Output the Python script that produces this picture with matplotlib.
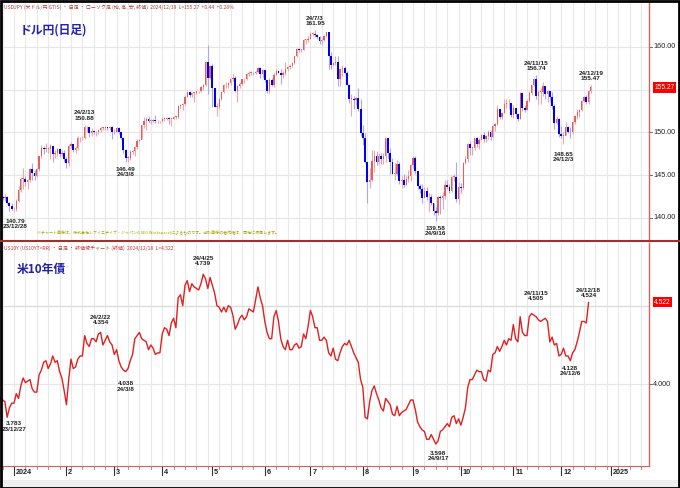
import numpy as np
import pandas as pd
import matplotlib
matplotlib.use("Agg")
import matplotlib.pyplot as plt
import matplotlib.transforms as mtrans
from matplotlib.patches import Rectangle
from matplotlib.lines import Line2D

plt.rcParams['font.family'] = ['Noto Sans CJK JP', 'DejaVu Sans']
NUM = ['Liberation Sans Narrow', 'Liberation Sans', 'DejaVu Sans']

# ---- USD/JPY daily candles, 2023-12-22 .. 2024-12-19 (open = previous close)
usd_first_open = 142.2
usd_close = [
    142.4, 142.3, 142.4, 141.8, 141.4, 141.0,
    141.0, 142.0, 143.3, 144.6, 144.6, 144.2, 144.4, 145.7, 145.3, 144.9, 145.7, 147.2, 148.2, 148.1, 148.1, 148.1, 148.4, 147.5, 147.6, 148.1, 147.5, 147.6, 146.9,
    146.4, 148.4, 148.7, 147.9, 148.2, 149.3, 149.3, 149.3, 150.6, 150.6, 149.9, 150.2, 150.0, 150.0, 150.3, 150.5, 150.5, 150.7, 150.5, 150.7, 150.0,
    150.1, 150.5, 150.0, 149.4, 148.0, 147.0, 147.0, 147.7, 147.8, 148.3, 149.0, 149.1, 150.9, 151.3, 151.6, 151.4, 151.4, 151.5, 151.3, 151.3, 151.3,
    151.6, 151.6, 151.7, 151.6, 151.6, 151.8, 151.8, 153.1, 153.2, 153.3, 154.2, 154.7, 154.4, 154.6, 154.6, 154.8, 154.8, 155.3, 155.6, 158.3, 156.4, 157.8,
    155.2, 153.0, 153.0, 153.9, 154.7, 155.5, 155.5, 155.8, 156.2, 156.4, 154.9, 155.4, 155.7, 156.2, 156.2, 156.8, 157.0, 157.0, 156.9, 157.1, 157.6, 156.8, 157.3,
    156.1, 154.9, 156.1, 155.6, 156.7, 157.2, 157.0, 156.7, 157.0, 157.4, 157.7, 157.8, 158.1, 158.9, 159.8, 159.7, 159.7, 160.8, 160.8, 160.9,
    161.5, 161.5, 161.4, 161.2, 160.7, 160.8, 161.3, 161.7, 158.9, 157.9, 158.1, 158.3, 156.2, 157.4, 157.5, 157.0, 155.6, 153.9, 153.9, 153.8, 154.0, 152.7, 149.9,
    149.3, 146.6, 144.2, 144.4, 146.7, 147.2, 146.6, 147.2, 146.9, 147.3, 149.3, 147.6, 146.5, 145.2, 145.2, 146.3, 144.3, 144.5, 143.9, 144.6, 144.9, 146.2,
    147.0, 145.5, 143.7, 143.4, 142.3, 143.1, 142.4, 142.4, 141.8, 140.8, 140.6, 142.4, 142.3, 142.6, 143.9, 143.6, 143.2, 144.8, 144.8, 142.2, 143.6,
    143.5, 146.4, 146.9, 148.7, 148.2, 148.2, 149.3, 148.6, 149.1, 149.7, 149.2, 149.6, 150.1, 149.5, 150.8, 151.0, 152.7, 151.8, 152.3, 153.3, 153.4, 153.4, 152.0,
    152.9, 152.2, 151.6, 154.6, 152.9, 152.6, 153.7, 154.6, 155.5, 156.3, 154.3, 154.7, 154.7, 155.4, 154.5, 154.8, 154.2, 153.1, 151.1, 151.6, 149.8,
    149.6, 149.6, 150.6, 150.1, 150.0, 151.2, 151.9, 152.4, 152.6, 153.7, 154.1, 153.6, 154.8, 155.3,
]
usd_high = [
    142.9, 142.6, 142.8, 142.6, 141.9, 141.8,
    141.3, 142.2, 143.7, 144.8, 145.9, 144.9, 144.6, 145.9, 146.4, 145.6, 145.9, 147.3, 148.5, 148.4, 148.8, 148.3, 148.7, 148.1, 147.9, 148.2, 148.2, 147.9, 147.9,
    147.1, 148.6, 148.9, 148.7, 148.4, 149.6, 149.5, 149.6, 150.9, 150.8, 150.5, 150.5, 150.2, 150.2, 150.4, 150.6, 150.6, 150.8, 150.7, 150.8, 150.8,
    150.4, 150.7, 150.6, 150.0, 149.5, 148.1, 147.2, 147.9, 148.0, 148.4, 149.2, 149.2, 150.9, 151.8, 151.8, 151.9, 151.6, 151.6, 152.0, 151.5, 151.4,
    151.8, 151.8, 151.8, 151.8, 151.8, 151.9, 151.9, 153.2, 153.3, 153.4, 154.4, 154.8, 154.8, 154.7, 154.7, 154.9, 154.9, 155.4, 155.7, 158.4, 160.2, 157.9,
    158.0, 155.2, 153.5, 154.0, 154.8, 155.7, 155.9, 155.9, 156.3, 156.8, 156.6, 155.6, 155.9, 156.3, 156.4, 156.9, 157.2, 157.2, 157.1, 157.3, 157.7, 157.7, 157.4,
    157.3, 156.1, 156.4, 156.4, 157.0, 157.4, 157.3, 157.4, 157.2, 158.2, 157.8, 158.0, 158.2, 159.0, 159.9, 159.9, 159.8, 160.9, 160.9, 161.3,
    161.7, 161.7, 162.0, 161.5, 161.3, 161.0, 161.4, 161.8, 161.8, 159.4, 158.3, 158.9, 158.9, 157.6, 157.9, 157.8, 157.2, 155.7, 154.5, 154.3, 154.2, 155.2, 153.9,
    150.9, 149.9, 146.6, 145.9, 147.9, 147.9, 147.8, 147.6, 147.6, 147.6, 149.4, 149.3, 148.2, 147.0, 146.4, 146.8, 146.6, 144.9, 145.2, 144.9, 145.6, 146.3,
    147.2, 147.2, 145.5, 144.0, 144.0, 143.6, 143.6, 142.9, 142.8, 141.8, 141.3, 142.6, 142.7, 143.0, 144.5, 144.4, 144.0, 144.9, 145.2, 146.5, 144.2,
    144.1, 146.5, 147.2, 148.8, 149.0, 148.3, 149.4, 149.5, 149.3, 149.8, 150.0, 149.7, 150.3, 150.3, 150.9, 151.1, 153.2, 152.8, 152.4, 153.9, 153.9, 153.9, 153.4,
    153.2, 152.7, 152.3, 154.7, 154.7, 153.2, 153.9, 154.8, 155.6, 156.4, 156.7, 155.0, 155.2, 155.9, 155.3, 155.0, 154.9, 154.7, 153.3, 151.9, 151.7,
    150.8, 150.1, 151.2, 150.8, 150.7, 151.4, 152.0, 152.8, 152.8, 153.8, 154.3, 154.4, 155.0, 155.5,
]
usd_low = [
    141.9, 142.1, 142.0, 141.6, 140.8, 140.9,
    140.8, 140.8, 141.9, 143.0, 143.4, 143.8, 143.4, 144.2, 144.4, 144.4, 144.8, 145.5, 147.0, 147.5, 147.7, 147.6, 146.9, 146.6, 147.0, 147.2, 147.1, 147.2, 146.5,
    145.9, 146.1, 148.2, 147.7, 147.6, 147.9, 148.9, 149.1, 149.2, 150.0, 149.5, 149.6, 149.8, 149.6, 149.8, 150.0, 150.3, 150.3, 150.3, 150.3, 149.2,
    149.8, 150.0, 149.8, 149.2, 147.6, 146.5, 146.6, 146.8, 147.5, 147.3, 148.1, 148.9, 149.2, 150.5, 150.3, 151.1, 151.0, 151.2, 151.1, 151.1, 151.1,
    151.2, 151.4, 151.5, 151.0, 150.8, 151.6, 151.6, 151.7, 152.7, 152.6, 153.2, 154.1, 154.1, 154.2, 153.6, 154.5, 154.6, 154.7, 155.0, 155.4, 154.5, 156.3,
    153.0, 153.0, 151.9, 152.8, 153.8, 154.6, 155.2, 155.2, 155.6, 156.0, 154.7, 153.6, 155.2, 155.6, 155.8, 156.1, 156.6, 156.7, 156.7, 156.8, 157.0, 156.4, 156.4,
    155.9, 154.6, 154.6, 155.4, 155.3, 156.7, 156.9, 155.7, 156.4, 156.7, 157.2, 157.4, 157.7, 158.0, 158.8, 159.4, 159.4, 159.6, 160.3, 160.6,
    160.9, 161.3, 161.2, 160.9, 160.3, 160.2, 160.7, 161.2, 157.4, 157.4, 157.8, 157.9, 155.4, 155.4, 156.6, 156.8, 155.5, 153.4, 151.9, 152.8, 153.2, 152.5, 149.6,
    148.5, 146.4, 141.7, 143.5, 144.3, 145.4, 146.2, 146.3, 146.3, 146.3, 146.5, 147.0, 145.2, 145.2, 144.5, 144.9, 144.0, 143.5, 143.6, 143.9, 144.2, 144.3,
    145.9, 145.2, 143.4, 142.9, 141.8, 142.4, 142.1, 140.7, 141.5, 140.3, 139.6, 140.4, 140.5, 141.1, 142.2, 143.4, 142.9, 143.0, 144.3, 141.9, 141.6,
    142.9, 143.4, 146.3, 146.5, 147.4, 147.4, 148.0, 148.3, 148.1, 149.1, 148.9, 148.9, 149.2, 149.1, 149.3, 150.2, 150.9, 151.6, 151.6, 152.3, 152.9, 152.7, 151.8,
    151.7, 151.8, 151.3, 151.6, 152.5, 152.4, 152.6, 153.6, 154.4, 155.4, 153.9, 153.3, 153.3, 154.3, 153.9, 153.6, 153.6, 152.8, 150.4, 151.0, 149.5,
    149.4, 148.7, 149.7, 149.9, 149.4, 149.8, 151.0, 151.6, 151.8, 152.5, 153.6, 153.3, 153.3, 154.6,
]

# ---- US 10-year yield, daily close, 2023-12-22 .. 2024-12-18
us10y = [
    3.91, 3.90, 3.89, 3.79, 3.85, 3.88,
    3.88, 3.94, 3.91, 3.99, 4.04, 4.01, 4.02, 4.03, 3.97, 3.95, 3.95, 4.06, 4.09, 4.14, 4.15, 4.10, 4.13, 4.18, 4.14, 4.15, 4.08, 4.04, 3.96,
    3.87, 4.03, 4.16, 4.10, 4.11, 4.16, 4.18, 4.18, 4.31, 4.26, 4.24, 4.29, 4.29, 4.27, 4.32, 4.33, 4.25, 4.28, 4.31, 4.27, 4.25,
    4.19, 4.22, 4.15, 4.11, 4.09, 4.08, 4.10, 4.15, 4.19, 4.29, 4.31, 4.33, 4.29, 4.28, 4.27, 4.22, 4.25, 4.23, 4.19, 4.20, 4.20,
    4.32, 4.36, 4.35, 4.31, 4.39, 4.42, 4.36, 4.55, 4.57, 4.50, 4.63, 4.66, 4.59, 4.64, 4.62, 4.61, 4.60, 4.64, 4.70, 4.67, 4.61, 4.68,
    4.63, 4.58, 4.50, 4.49, 4.46, 4.49, 4.46, 4.50, 4.49, 4.44, 4.35, 4.38, 4.42, 4.44, 4.41, 4.43, 4.48, 4.47, 4.46, 4.54, 4.62, 4.55, 4.50,
    4.40, 4.33, 4.29, 4.29, 4.43, 4.47, 4.40, 4.29, 4.24, 4.22, 4.28, 4.22, 4.22, 4.25, 4.26, 4.23, 4.24, 4.32, 4.29, 4.37,
    4.47, 4.43, 4.36, 4.36, 4.28, 4.28, 4.30, 4.28, 4.20, 4.18, 4.23, 4.16, 4.15, 4.20, 4.24, 4.26, 4.25, 4.28, 4.24, 4.20, 4.17, 4.14, 4.03,
    3.98, 3.79, 3.78, 3.89, 3.96, 3.99, 3.94, 3.90, 3.85, 3.83, 3.91, 3.89, 3.87, 3.81, 3.80, 3.86, 3.80, 3.82, 3.83, 3.84, 3.87, 3.90,
    3.90, 3.84, 3.76, 3.73, 3.71, 3.70, 3.65, 3.65, 3.68, 3.65, 3.62, 3.64, 3.70, 3.71, 3.73, 3.75, 3.73, 3.79, 3.80, 3.75, 3.78,
    3.74, 3.79, 3.85, 3.98, 4.03, 4.03, 4.06, 4.09, 4.08, 4.08, 4.03, 4.02, 4.09, 4.08, 4.19, 4.20, 4.24, 4.21, 4.24, 4.28, 4.25, 4.29, 4.28,
    4.38, 4.29, 4.27, 4.43, 4.33, 4.31, 4.31, 4.43, 4.45, 4.44, 4.43, 4.41, 4.40, 4.41, 4.42, 4.40, 4.27, 4.30, 4.25, 4.26, 4.18,
    4.19, 4.23, 4.18, 4.18, 4.15, 4.20, 4.22, 4.27, 4.33, 4.40, 4.40, 4.39, 4.52,
]

# (date, anchor, text, x offset pt, y offset pt)
usd_labels = [("2023-12-28", "low", "140.79\n23/12/28", 4, -5.5),
              ("2024-02-13", "high", "24/2/13\n150.88", 0, 3),
              ("2024-03-08", "low", "146.49\n24/3/8", 0, -3),
              ("2024-07-03", "high", "24/7/3\n161.95", 0, 3),
              ("2024-09-16", "low", "139.58\n24/9/16", 0, -3),
              ("2024-11-15", "high", "24/11/15\n156.74", 0, 3),
              ("2024-12-03", "low", "148.65\n24/12/3", 0, -6),
              ("2024-12-19", "high", "24/12/19\n155.47", 0, 3)]
bond_labels = [("2023-12-27", "3.783\n23/12/27", 5, -3),
               ("2024-02-22", "24/2/22\n4.354", 0, 5),
               ("2024-03-08", "4.038\n24/3/8", 0, -7),
               ("2024-04-25", "24/4/25\n4.739", 0, 6),
               ("2024-09-17", "3.598\n24/9/17", 0, -7),
               ("2024-11-15", "24/11/15\n4.505", 0, 11),
               ("2024-12-06", "4.128\n24/12/6", 0, -4),
               ("2024-12-18", "24/12/18\n4.524", 0, 3)]
month_names = ['2024', '2', '3', '4', '5', '6', '7', '8', '9', '10', '11', '12', '2025']

# trading-day positions, 0 = 2024-01-01
days = pd.bdate_range("2023-12-22", "2025-02-28")
pos = pd.Series(np.arange(len(days)) - 6, index=days)
c = np.array(usd_close)
o = np.array([usd_first_open] + usd_close[:-1])
h = np.array(usd_high)
l = np.array(usd_low)
x1 = pos.values[:len(c)]
x2 = pos.values[:len(us10y)]
y2 = np.array(us10y)

fig = plt.figure(figsize=(6.8, 4.88), dpi=100)
H = 488.0
ax1 = fig.add_axes([0, 1 - 241 / H, 649 / 680, 239 / H])
ax2 = fig.add_axes([0, 1 - 466 / H, 649 / 680, 223 / H])
xl = (-14 / 2.28, (649 - 14) / 2.28)

for ax in (ax1, ax2):
    ax.set_xlim(*xl)
    for k in range(-5, 285, 5):
        ax.axvline(k, color='#e9e9e9', lw=0.8, zorder=0)
    for s in ('left', 'top', 'bottom'):
        ax.spines[s].set_visible(False)
    ax.spines['right'].set_color('#d86060')
    ax.spines['right'].set_linewidth(1.0)
    ax.set_yticks([])
    ax.set_xticks([])

# ---- top panel: candles
ax1.set_ylim(137.31, 165.26)
for v in (140, 145, 150, 155, 160):
    ax1.axhline(v, color='#e6e6e6', lw=0.8, zorder=0)
up = c >= o
ax1.vlines(x1[up], l[up], h[up], color='#f2a6a6', lw=0.8, zorder=2)
ax1.vlines(x1[~up], l[~up], h[~up], color='#a8a8f0', lw=0.8, zorder=2)
blo = np.minimum(o, c)
bh = np.maximum(np.abs(c - o), 0.1)
ax1.bar(x1[up], bh[up], bottom=blo[up], width=0.55, color='#e06060', lw=0, zorder=3)
ax1.bar(x1[~up], bh[~up], bottom=blo[~up], width=0.85, color='#0000f0', lw=0, zorder=3)

for d, kind, txt, dx, dy in usd_labels:
    k = int(pos[d]) + 6
    yv = h[k] if kind == 'high' else l[k]
    ax1.annotate(txt, (x1[k], yv), xytext=(dx, dy), textcoords='offset points',
                 ha='center', va='bottom' if dy > 0 else 'top', fontsize=4.6,
                 family=NUM, fontweight='bold', color='#222222', linespacing=1.05,
                 annotation_clip=False)

# ---- bottom panel: 10Y yield
ax2.set_ylim(3.480, 4.899)
ax2.axhline(4.5, color='#dcdcdc', lw=1.0, zorder=0)
ax2.axhline(4.0, color='#e6e6e6', lw=0.8, zorder=0)
ax2.plot(x2, y2, color='#e02020', lw=1.0, zorder=3)
for d, txt, dx, dy in bond_labels:
    k = int(pos[d]) + 6
    ax2.annotate(txt, (x2[k], y2[k]), xytext=(dx, dy), textcoords='offset points',
                 ha='center', va='bottom' if dy > 0 else 'top', fontsize=4.6,
                 family=NUM, fontweight='bold', color='#222222', linespacing=1.05,
                 annotation_clip=False)
ax2.spines['bottom'].set_visible(True)
ax2.spines['bottom'].set_color('#d86060')

# right-hand price scale
for ax, vals, fmt, box in ((ax1, [140, 145, 150, 160], '{:.2f}', (155.27, '155.27')),
                           (ax2, [4.0], '{:.3f}', (4.522, '4.522'))):
    tr = mtrans.blended_transform_factory(ax.transAxes, ax.transData)
    for v in vals:
        ax.plot([1.0, 1.005], [v, v], transform=tr, color='#555555', lw=0.6, clip_on=False)
        ax.text(1.006, v, fmt.format(v), transform=tr, fontsize=5.2, family=NUM,
                va='center', ha='left', color='#222222', clip_on=False)
    ax.text(1.008, box[0], box[1], transform=tr, fontsize=4.8, family=NUM, va='center',
            ha='left', color='white', clip_on=False,
            bbox=dict(boxstyle='square,pad=0.25', fc='#ff0000', ec='none'))

# month ticks under the bottom panel
month_pos = [int(pos[pos.index[(pos.index.year == yy) & (pos.index.month == mm)][0]])
             for yy, mm in [(2024, m) for m in range(1, 13)] + [(2025, 1)]]
trx = mtrans.blended_transform_factory(ax2.transData, ax2.transAxes)
for k in range(-5, 280, 5):
    ax2.plot([k, k], [0, -0.012], transform=trx, color='#d86060', lw=0.6, clip_on=False)
for p, name in zip(month_pos, month_names):
    ax2.plot([p, p], [0, -0.04], transform=trx, color='#333333', lw=0.8, clip_on=False)
    ax2.text(p + 0.8, -0.012, name, transform=trx, fontsize=5.2, family=NUM,
             fontweight='bold', va='top', ha='left', color='#222222', clip_on=False)

# headers and titles
fig.text(4 / 680, 1 - 7 / H, 'USDJPY (米ドル/円 GTIS) ・ 日足 ・ ローソク足 (始, 高, 安, 終値)  2024/12/19  L=155.27  +0.44  +0.28%',
         fontsize=3.6, color='#b04040', va='center', ha='left')
fig.text(20 / 680, 1 - 30 / H, 'ドル円(日足)', fontsize=8.5, fontweight='bold',
         color='#2222aa', va='center', ha='left')
fig.text(37 / 680, 1 - 233 / H,
         '※チャート画像は、株式会社レフィニティブ・ジャパン(LSEG Workspace)によるものです。当該画像の著作権は、同社に帰属します。',
         fontsize=2.9, color='#a8a000', va='center', ha='left')
fig.text(4 / 680, 1 - 248 / H, 'US10Y (US10YT=RR) ・ 日足 ・ 終値線チャート (終値)  2024/12/18  L=4.522',
         fontsize=3.6, color='#b04040', va='center', ha='left')
fig.text(17 / 680, 1 - 269 / H, '米10年債', fontsize=8.5, fontweight='bold',
         color='#2222aa', va='center', ha='left')

# panel separator, scroll bar, outer frame
fig.add_artist(Line2D([0, 1], [1 - 241.5 / H] * 2, transform=fig.transFigure,
                      color='#a03030', lw=1.5))
fig.add_artist(Rectangle((0, 0), 1, 8 / H, transform=fig.transFigure,
                         fc='#eeeeee', ec='none'))
fig.add_artist(Rectangle((0.001, 0.001), 0.998, 0.997, transform=fig.transFigure,
                         fill=False, ec='black', lw=2))

fig.savefig('out.png', dpi=100)
